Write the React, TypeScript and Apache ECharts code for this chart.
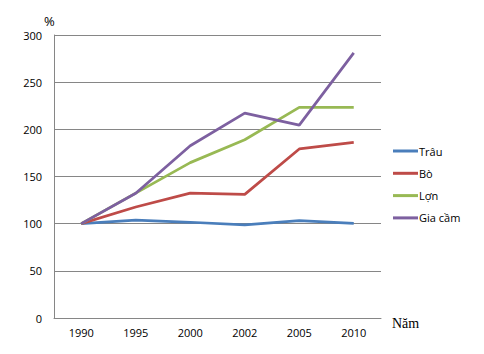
import React, { useEffect, useRef } from "react";
import * as echarts from "echarts";

const years = ["1990", "1995", "2000", "2002", "2005", "2010"];
const trau = [100, 103.8, 101.5, 98.6, 103.1, 100.4];
const bo = [100, 117.7, 132.4, 131.0, 179.2, 186.2];
const lon = [100, 132.4, 164.7, 189.0, 223.3, 223.4];
const giaCam = [100, 132.3, 182.6, 217.2, 204.5, 281.0];

const seriesNames = ["Trâu", "Bò", "Lợn", "Gia cầm"];
const colors = ["#4A7EBB", "#BE4B48", "#98B954", "#7D60A0"];

export default function App() {
  const ref = useRef<HTMLDivElement>(null);
  useEffect(() => {
    if (!ref.current) return;
    const chart = echarts.init(ref.current, undefined, { renderer: "svg" });
    const dataSets = [trau, bo, lon, giaCam];
    const font = "Open Sans";
    chart.setOption({
      animation: false,
      backgroundColor: "#ffffff",
      grid: { left: 54, right: 103, top: 35, bottom: 36, containLabel: false },
      legend: {
        orient: "vertical",
        left: 388,
        top: 140,
        icon: "rect",
        itemWidth: 25,
        itemHeight: 3,
        itemGap: 10.3,
        textStyle: { fontFamily: font, fontSize: 11, color: "#000", padding: [0, 0, 0, -4], lineHeight: 12 },
        data: seriesNames,
      },
      xAxis: {
        type: "category",
        data: years,
        boundaryGap: true,
        axisLine: { show: true, lineStyle: { color: "#868686", width: 1 } },
        axisTick: { show: false },
        axisLabel: { fontFamily: font, fontSize: 11, color: "#000", margin: 9 },
      },
      yAxis: {
        type: "value",
        min: 0,
        max: 300,
        interval: 50,
        axisLine: { show: true, lineStyle: { color: "#868686", width: 1 } },
        axisTick: { show: false },
        splitLine: { show: true, lineStyle: { color: "#868686", width: 1 } },
        axisLabel: { fontFamily: font, fontSize: 11, color: "#000", margin: 12 },
      },
      graphic: [
        {
          type: "text",
          left: 44,
          top: 14,
          style: { text: "%", fontFamily: font, fontSize: 13, fill: "#000" },
        },
        {
          type: "text",
          left: 392,
          top: 316,
          style: { text: "Năm", fontFamily: "Liberation Serif", fontSize: 14, fill: "#000" },
        },
      ],
      series: dataSets.map((d, i) => ({
        name: seriesNames[i],
        type: "line",
        data: d,
        symbol: "none",
        color: colors[i],
        lineStyle: { width: 2.75, color: colors[i] },
        itemStyle: { color: colors[i] },
      })),
    });
    return () => chart.dispose();
  }, []);
  return (
    <div
      ref={ref}
      style={{ position: "absolute", left: 0, top: 0, width: 484, height: 354 }}
    />
  );
}
